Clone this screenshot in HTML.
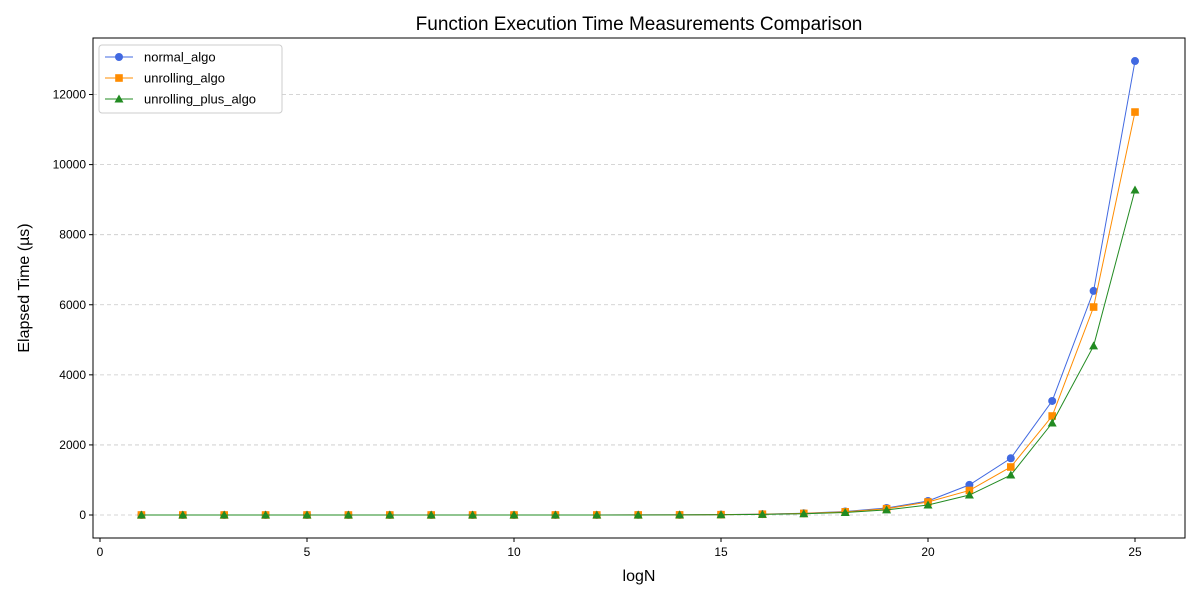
<!DOCTYPE html>
<html><head><meta charset="utf-8"><style>
body{margin:0;background:#fff;font-family:"Liberation Sans","DejaVu Sans",sans-serif}
</style></head><body>
<svg id="chart" width="1200" height="600" xmlns="http://www.w3.org/2000/svg"></svg>
<script>
const logN=[1,2,3,4,5,6,7,8,9,10,11,12,13,14,15,16,17,18,19,20,21,22,23,24,25];
const normalAlgo=[0,0,0,0,0,0,0,0,0,0,1,1,2,3,10,25,50,100,200,400,860,1620,3255,6395,12955];
const unrollingAlgo=[0,0,0,0,0,0,0,0,0,0,1,1,2,3,9,22,45,90,180,370,700,1370,2825,5935,11500];
const unrollingPlusAlgo=[0,0,0,0,0,0,0,0,0,0,1,1,1,2,7,17,35,70,145,285,570,1140,2625,4825,9275];
const xTicks=[0,5,10,15,20,25];
const yTicks=[0,2000,4000,6000,8000,10000,12000];
const svg=document.getElementById('chart');
const NS='http://www.w3.org/2000/svg';
const L=93,R=1185,T=38,B=538;
const xs=v=>100+v*41.4;
const ys=v=>515-v*0.03504;
function el(t,a,txt){const e=document.createElementNS(NS,t);for(const k in a)e.setAttribute(k,a[k]);if(txt!==undefined)e.textContent=txt;svg.appendChild(e);return e;}
// grid
yTicks.forEach(v=>{
 const g=el('line',{x1:L,x2:R,y1:ys(v),y2:ys(v),stroke:'#c8c8c8','stroke-dasharray':'4,3','stroke-width':0.8});
 
 
 const tk=el('line',{x1:L-4,x2:L,y1:ys(v),y2:ys(v),stroke:'#000'});
 
 
 const tl=el('text',{x:L-7,y:ys(v)+4,'text-anchor':'end','font-size':12},v);
 
 
});
xTicks.forEach(v=>{
 const tk=el('line',{x1:xs(v),x2:xs(v),y1:B,y2:B+4,stroke:'#000'});
 
 
 const tl=el('text',{x:xs(v),y:B+18,'text-anchor':'middle','font-size':12},v);
 
 
});
const frame=el('rect',{x:L,y:T,width:R-L,height:B-T,fill:'none',stroke:'#000','stroke-width':1});


const series=[
 {n:'normal_algo',d:normalAlgo,c:'#4169e1',m:'circle'},
 {n:'unrolling_algo',d:unrollingAlgo,c:'#ff8c00',m:'square'},
 {n:'unrolling_plus_algo',d:unrollingPlusAlgo,c:'#228b22',m:'tri'}];
function marker(m,x,y,c){
 let e;
 if(m==='circle')e=el('circle',{cx:x,cy:y,r:4,fill:c});
 else if(m==='square')e=el('rect',{x:x-3.8,y:y-3.8,width:7.6,height:7.6,fill:c});
 else e=el('polygon',{points:`${x},${y-4.5} ${x-4.5},${y+3.5} ${x+4.5},${y+3.5}`,fill:c});
 return e;
}
series.forEach(s=>{
 const p=el('polyline',{points:s.d.map((v,i)=>xs(logN[i])+','+ys(v)).join(' '),fill:'none',stroke:s.c,'stroke-width':1});
 
 
 s.d.forEach((v,i)=>{
  const mk=marker(s.m,xs(logN[i]),ys(v),s.c);
  
  
 });
});
// legend
const lb=el('rect',{x:99,y:45,width:183,height:68,fill:'#fff',stroke:'#ccc',rx:3});


series.forEach((s,i)=>{
 const y=57+i*21;
 const ll=el('line',{x1:105,x2:133,y1:y,y2:y,stroke:s.c});
 
 
 const mk=marker(s.m,119,y,s.c);
 
 
 const t=el('text',{x:144,y:y+4.5,'font-size':13},s.n);
 
 
});
const title=el('text',{x:639,y:30,'text-anchor':'middle','font-size':19},'Function Execution Time Measurements Comparison');


const xt=el('text',{x:639,y:581,'text-anchor':'middle','font-size':16},'logN');


const yt=el('text',{x:0,y:0,'text-anchor':'middle','font-size':16,transform:'translate(29,288) rotate(-90)'},'Elapsed Time (µs)');


</script>
</body></html>
